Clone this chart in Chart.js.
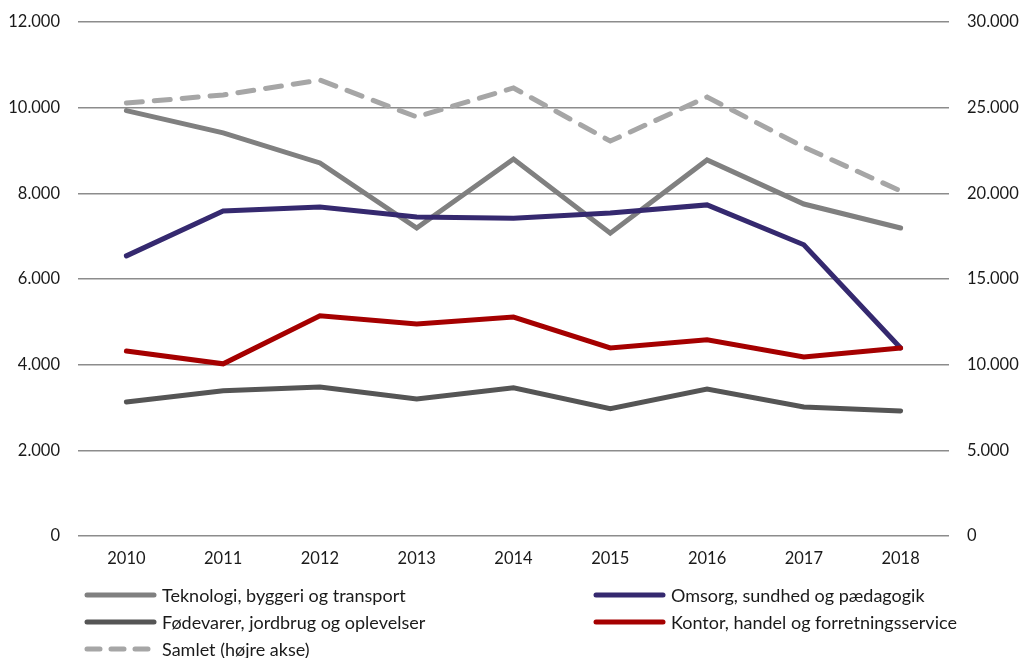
<!DOCTYPE html>
<html>
<head>
<meta charset="utf-8">
<script src="https://cdn.jsdelivr.net/npm/chart.js@4/dist/chart.umd.min.js"></script>
<style>
  html, body { margin: 0; padding: 0; background: #fff; }
  #wrap { width: 1021px; height: 658px; position: relative; }
</style>
</head>
<body>
<div id="wrap"><canvas id="c" width="1021" height="658"></canvas></div>
<script>
const years = ['2010','2011','2012','2013','2014','2015','2016','2017','2018'];
const teknologi = [9930, 9410, 8710, 7190, 8800, 7070, 8780, 7750, 7190];
const omsorg    = [6540, 7590, 7680, 7450, 7420, 7540, 7730, 6800, 4390];
const foedevarer = [3130, 3390, 3480, 3200, 3460, 2970, 3430, 3010, 2920];
const kontor    = [4320, 4020, 5140, 4950, 5110, 4390, 4580, 4180, 4390];
const samlet    = [25270, 25740, 26610, 24460, 26150, 23050, 25620, 22700, 20140];
const seriesNames = [
  'Teknologi, byggeri og transport',
  'Omsorg, sundhed og pædagogik',
  'Fødevarer, jordbrug og oplevelser',
  'Kontor, handel og forretningsservice',
  'Samlet (højre akse)'
];
const leftTicks = [0, 2000, 4000, 6000, 8000, 10000, 12000];
const rightTicks = [0, 5000, 10000, 15000, 20000, 25000, 30000];

const FONT = 'Lato, "Source Sans Pro", "Noto Sans", sans-serif';
const fmt = v => v === 0 ? '0' : v.toLocaleString('de-DE');

const legendPlugin = {
  id: 'customLegend',
  afterDraw(chart) {
    const ctx = chart.ctx;
    chart.data.datasets.forEach((ds, i) => {
      const col = i % 2, row = Math.floor(i / 2);
      const x0 = col === 0 ? 87 : 596;
      const y = 595 + row * 27;
      ctx.save();
      ctx.strokeStyle = ds.borderColor;
      ctx.lineWidth = 5;
      ctx.lineCap = 'round';
      if (ds.borderDash && ds.borderDash.length) ctx.setLineDash([13, 11]);
      ctx.beginPath();
      ctx.moveTo(x0, y);
      ctx.lineTo(x0 + 67, y);
      ctx.stroke();
      ctx.setLineDash([]);
      ctx.fillStyle = '#1a1a1a';
      ctx.font = '18px ' + FONT;
      ctx.textBaseline = 'middle';
      ctx.textAlign = 'left';
      ctx.fillText(ds.label, x0 + 75, y + 1);
      ctx.restore();
    });
  }
};

const base = { fill: false, tension: 0, pointRadius: 0, pointHoverRadius: 0, borderWidth: 5, borderJoinStyle: 'miter', borderCapStyle: 'round' };

new Chart(document.getElementById('c'), {
  type: 'line',
  data: {
    labels: years,
    datasets: [
      { ...base, label: seriesNames[0], data: teknologi, borderColor: '#808080', yAxisID: 'y', order: 5 },
      { ...base, label: seriesNames[1], data: omsorg, borderColor: '#35296f', yAxisID: 'y', order: 4 },
      { ...base, label: seriesNames[2], data: foedevarer, borderColor: '#555555', yAxisID: 'y', order: 3 },
      { ...base, label: seriesNames[3], data: kontor, borderColor: '#a50000', yAxisID: 'y', order: 2 },
      { ...base, label: seriesNames[4], data: samlet, borderColor: '#a6a6a6', borderDash: [16, 12], yAxisID: 'y1', order: 1 }
    ]
  },
  options: {
    responsive: false,
    animation: false,
    events: [],
    layout: { padding: { top: 22, bottom: 0, left: 0, right: 0 } },
    plugins: { legend: { display: false }, tooltip: { enabled: false } },
    scales: {
      x: {
        offset: true,
        grid: { display: false, drawTicks: false },
        border: { display: false },
        ticks: { color: '#1a1a1a', font: { family: FONT, size: 16.5 }, padding: 13, maxRotation: 0 },
        afterFit(s) { s.height = 122; }
      },
      y: {
        position: 'left',
        min: 0, max: 12000,
        afterBuildTicks(s) { s.ticks = leftTicks.map(v => ({ value: v })); },
        grid: { color: '#8c8c8c', lineWidth: 1.5, drawTicks: false },
        border: { display: false },
        ticks: { color: '#1a1a1a', font: { family: FONT, size: 16.5 }, padding: 18, callback: v => fmt(v) },
        afterFit(s) { s.width = 78; s.paddingTop = 0; s.paddingBottom = 0; }
      },
      y1: {
        position: 'right',
        min: 0, max: 30000,
        afterBuildTicks(s) { s.ticks = rightTicks.map(v => ({ value: v })); },
        grid: { display: false, drawTicks: false },
        border: { display: false },
        ticks: { color: '#1a1a1a', font: { family: FONT, size: 16.5 }, padding: 18, callback: v => fmt(v) },
        afterFit(s) { s.width = 72; s.paddingTop = 0; s.paddingBottom = 0; }
      }
    }
  },
  plugins: [legendPlugin]
});
</script>
</body>
</html>
